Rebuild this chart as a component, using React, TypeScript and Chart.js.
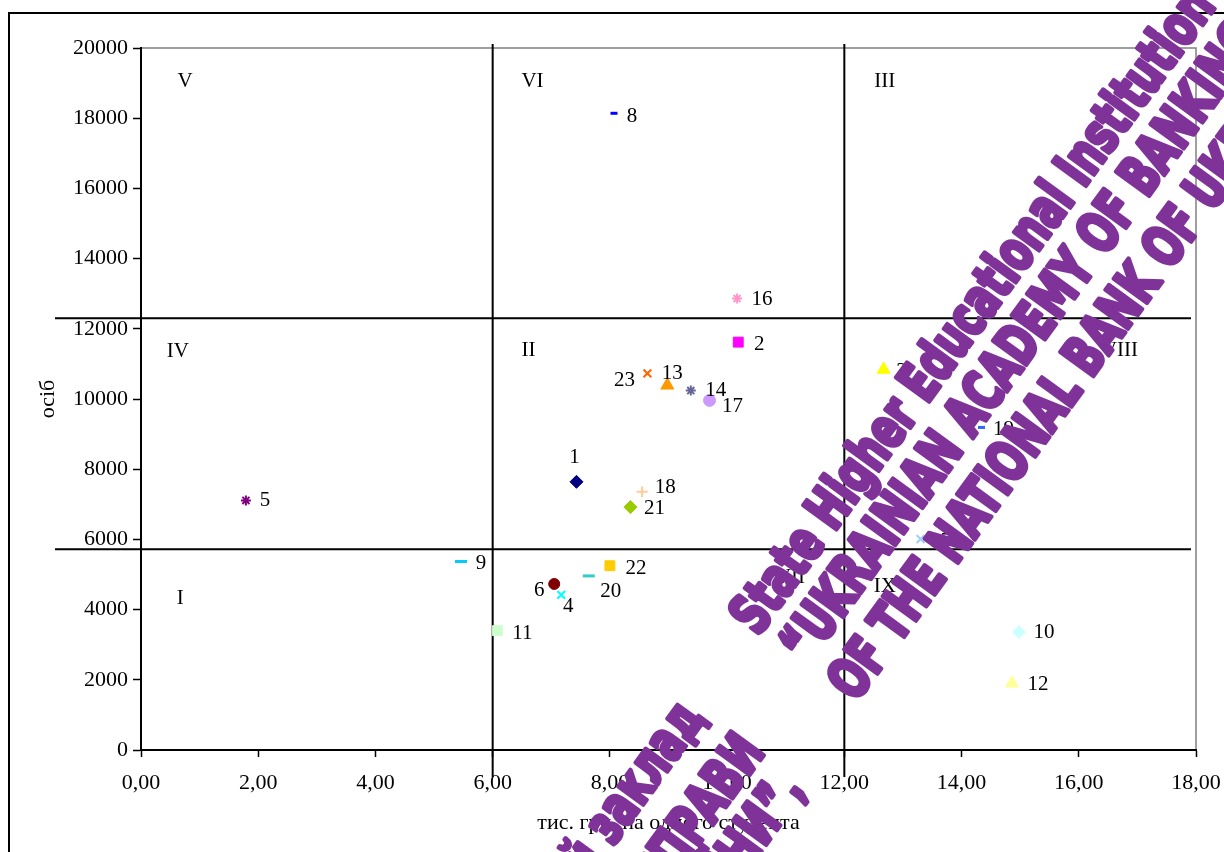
import React, { useEffect, useRef } from 'react';
import { Chart, registerables } from 'chart.js';

Chart.register(...registerables);

// ---------- data ----------
// Point 7 is not visible in the reference (outside the plotted range), so it is kept above the y-axis maximum.
const pointNames = ['1', '2', '3', '4', '5', '6', '7', '8', '9', '10', '11', '12', '13', '14', '15', '16', '17', '18', '19', '20', '21', '22', '23'];
const xValues = [7.43, 10.19, 12.67, 7.17, 1.79, 7.05, 10.6, 8.07, 5.46, 14.98, 6.08, 14.86, 8.98, 9.38, 13.30, 10.17, 9.70, 8.55, 14.34, 7.64, 8.35, 8.00, 8.64];
const yValues = [7640, 11620, 10840, 4420, 7110, 4730, 21600, 18140, 5370, 3360, 3400, 1900, 10390, 10240, 6010, 12860, 9960, 7360, 9190, 4960, 6920, 5250, 10730];

const regionNames = ['I', 'II', 'III', 'IV', 'V', 'VI', 'VII', 'VIII', 'IX'];
const regionX = [0.67, 6.61, 12.69, 0.63, 0.75, 6.68, 11.08, 16.70, 12.69];
const regionY = [4330, 11390, 19050, 11365, 19050, 19040, 4905, 11390, 4645];

const splitX = [6, 12];
const splitY = [5720, 12300];

const xTicks = [0, 2, 4, 6, 8, 10, 12, 14, 16, 18];
const yTicks = [0, 2000, 4000, 6000, 8000, 10000, 12000, 14000, 16000, 18000, 20000];

const xTitle = 'тис. грн. на одного студента';
const yTitle = 'осіб';

const wmEnglish = ['State Higher Educational Institution', '“UKRAINIAN ACADEMY OF BANKING', 'OF THE NATIONAL BANK OF UKRAINE”'];
const wmUkrainian = ['Державний вищий навчальний заклад', '“УКРАЇНСЬКА АКАДЕМІЯ БАНКІВСЬКОЇ СПРАВИ', 'НАЦІОНАЛЬНОГО БАНКУ УКРАЇНИ”,'];

// ---------- styles ----------
const markerStyle = ['rectRot', 'rect', 'triangle', 'crossRot', 'star', 'circle', 'cross', 'line', 'line', 'rectRot', 'rect', 'triangle', 'triangle', 'star', 'crossRot', 'star', 'circle', 'cross', 'line', 'line', 'rectRot', 'rect', 'crossRot'];
const markerColor = ['#000080', '#FF00FF', '#FFFF00', '#00FFFF', '#800080', '#800000', '#008080', '#0000FF', '#00CCFF', '#CCFFFF', '#CCFFCC', '#FFFF99', '#FF9900', '#666699', '#99CCFF', '#FF99CC', '#CC99FF', '#FFCC99', '#3366FF', '#33CCCC', '#99CC00', '#FFCC00', '#FF6600'];
const markerRadius = [6.5, 7, 7.5, 5.5, 5, 5.5, 5.5, 3.5, 6, 6.5, 7, 7.5, 7.5, 5, 5.5, 5, 6, 5.5, 3.5, 6, 6.5, 7, 5.5];
const labelDx = [-2, 21, 18, 7, 19, -15, 18, 18, 20, 25, 25, 26, 5, 25, 20, 25, 23, 23, 22, 22, 24, 26, -23];
const labelDy = [-24, 2, 2, 12, 0, 7, 0, 3, 2, 0, 3, 1, -12, 0, 2, 1, 6, -4, 2, 16, 1, 3, 7];

const FONT = '"Liberation Serif", "Times New Roman", serif';
const WM_COLOR = '#7f3399';

export default function App() {
  const canvasRef = useRef<HTMLCanvasElement | null>(null);

  useEffect(() => {
    const canvas = canvasRef.current;
    if (!canvas) return;

    const data = xValues.map((x, i) => ({ x, y: yValues[i] }));

    const framePlugin = {
      id: 'frame',
      beforeDraw(chart: any) {
        const ctx = chart.ctx;
        ctx.save();
        ctx.fillStyle = '#fff';
        ctx.fillRect(0, 0, chart.width, chart.height);
        ctx.strokeStyle = '#000';
        ctx.lineWidth = 2;
        ctx.beginPath();
        ctx.moveTo(9, chart.height);
        ctx.lineTo(9, 13);
        ctx.lineTo(chart.width, 13);
        ctx.stroke();
        const a = chart.chartArea;
        ctx.strokeStyle = '#808080';
        ctx.lineWidth = 1.5;
        ctx.beginPath();
        ctx.moveTo(a.left, a.top);
        ctx.lineTo(a.right, a.top);
        ctx.lineTo(a.right, a.bottom);
        ctx.stroke();
        ctx.restore();
      },
      beforeDatasetsDraw(chart: any) {
        const ctx = chart.ctx;
        const a = chart.chartArea;
        const xs = chart.scales.x;
        const ys = chart.scales.y;
        ctx.save();
        ctx.strokeStyle = '#000';
        ctx.lineWidth = 2;
        ctx.beginPath();
        splitX.forEach((v) => {
          const px = xs.getPixelForValue(v);
          ctx.moveTo(px, a.top - 4);
          ctx.lineTo(px, a.bottom + 27);
        });
        splitY.forEach((v) => {
          const py = ys.getPixelForValue(v);
          ctx.moveTo(a.left - 86, py);
          ctx.lineTo(a.right - 5, py);
        });
        ctx.stroke();
        ctx.fillStyle = '#000';
        ctx.font = '21px ' + FONT;
        ctx.textAlign = 'center';
        ctx.textBaseline = 'middle';
        regionNames.forEach((t, i) => {
          ctx.fillText(t, xs.getPixelForValue(regionX[i]), ys.getPixelForValue(regionY[i]));
        });
        ctx.restore();
      },
      afterDatasetsDraw(chart: any) {
        const ctx = chart.ctx;
        const a = chart.chartArea;
        const meta = chart.getDatasetMeta(0);
        ctx.save();
        ctx.fillStyle = '#000';
        ctx.font = '21px ' + FONT;
        ctx.textAlign = 'center';
        ctx.textBaseline = 'middle';
        meta.data.forEach((el: any, i: number) => {
          if (el.x < a.left || el.x > a.right || el.y < a.top || el.y > a.bottom) return;
          ctx.fillText(pointNames[i], el.x + labelDx[i], el.y + labelDy[i]);
        });
        ctx.restore();
      },
      afterDraw(chart: any) {
        const ctx = chart.ctx;
        const ang = -54 * Math.PI / 180;
        ctx.save();
        ctx.fillStyle = WM_COLOR;
        ctx.strokeStyle = WM_COLOR;
        ctx.lineWidth = 4.5;
        ctx.lineJoin = 'round';
        ctx.font = 'bold 56px "Liberation Sans Narrow", "DejaVu Sans Condensed", "DejaVu Sans", sans-serif';
        const sx = 775 / ctx.measureText(wmEnglish[1]).width;
        // English block
        ctx.save();
        ctx.translate(758, 637);
        ctx.rotate(ang);
        ctx.scale(sx, 1);
        ctx.textAlign = 'left';
        ctx.textBaseline = 'alphabetic';
        const offs = [[0, 0], [6, 57], [4, 118]];
        wmEnglish.forEach((t, i) => {
          ctx.fillText(t, offs[i][0] / sx, offs[i][1]);
          ctx.strokeText(t, offs[i][0] / sx, offs[i][1]);
        });
        ctx.restore();
        // Ukrainian block (ends only visible)
        const ends = [[706, 718], [766, 752], [806, 790]];
        wmUkrainian.forEach((t, i) => {
          ctx.save();
          ctx.translate(ends[i][0], ends[i][1]);
          ctx.rotate(ang);
          ctx.scale(sx, 1);
          ctx.textAlign = 'right';
          ctx.textBaseline = 'alphabetic';
          ctx.fillText(t, 0, 0);
          ctx.strokeText(t, 0, 0);
          ctx.restore();
        });
        ctx.restore();
      },
    };

    const chart = new Chart(canvas, {
      type: 'scatter',
      data: {
        datasets: [
          {
            label: 'points',
            data,
            pointStyle: markerStyle as any,
            pointRadius: markerRadius,
            pointHoverRadius: markerRadius,
            pointBackgroundColor: markerColor,
            pointBorderColor: markerColor,
            pointBorderWidth: markerStyle.map((s) => (s === 'line' ? 3 : s === 'cross' || s === 'crossRot' || s === 'star' ? 2 : 1)),
          },
        ],
      },
      options: {
        animation: false,
        responsive: false,
        devicePixelRatio: 1,
        layout: { padding: { top: 48, right: 28, bottom: 0, left: 0 } },
        plugins: {
          legend: { display: false },
          tooltip: { enabled: false },
        },
        scales: {
          x: {
            type: 'linear',
            min: 0,
            max: 18,
            afterBuildTicks: (s: any) => { s.ticks = xTicks.map((v) => ({ value: v })); },
            afterFit: (s: any) => { s.height = 102; s.paddingRight = 0; s.paddingLeft = 0; },
            ticks: {
              color: '#000',
              font: { family: FONT, size: 22 },
              padding: 13,
              maxRotation: 0,
              autoSkip: false,
              callback: (v: any) => Number(v).toFixed(2).replace('.', ','),
            },
            grid: { drawOnChartArea: false, drawTicks: true, tickLength: 7, color: '#000', tickWidth: 1.5 },
            border: { display: true, color: '#000', width: 2 },
            title: { display: true, text: xTitle, color: '#000', font: { family: FONT, size: 22 }, padding: { top: 0, bottom: 16 } },
          },
          y: {
            type: 'linear',
            min: 0,
            max: 20000,
            afterBuildTicks: (s: any) => { s.ticks = yTicks.map((v) => ({ value: v })); },
            afterFit: (s: any) => { s.width = 141; s.paddingTop = 0; s.paddingBottom = 0; },
            ticks: {
              color: '#000',
              font: { family: FONT, size: 22 },
              padding: 5,
              autoSkip: false,
              callback: (v: any) => String(v),
            },
            grid: { drawOnChartArea: false, drawTicks: true, tickLength: 8, color: '#000', tickWidth: 1.5 },
            border: { display: true, color: '#000', width: 2 },
            title: { display: true, text: yTitle, color: '#000', font: { family: FONT, size: 22 }, padding: { top: 35, bottom: 0 } },
          },
        },
      },
      plugins: [framePlugin],
    });

    return () => chart.destroy();
  }, []);

  return (
    <div style={{ position: 'fixed', left: 0, top: 0, width: 1224, height: 852, overflow: 'hidden', background: '#fff' }}>
      <canvas ref={canvasRef} width={1224} height={852} style={{ display: 'block', width: 1224, height: 852 }} />
    </div>
  );
}
